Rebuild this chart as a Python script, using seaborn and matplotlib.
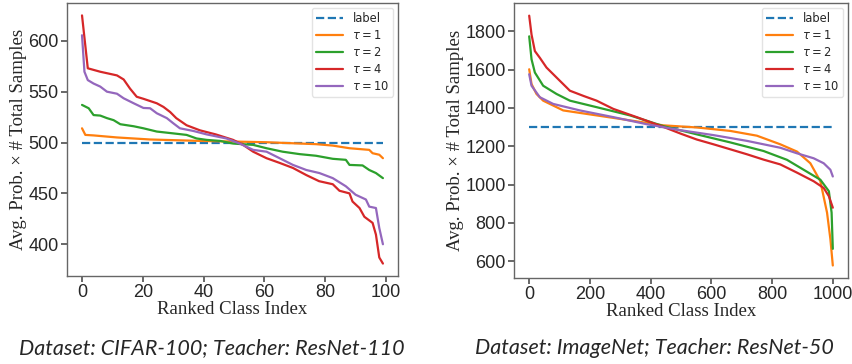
import matplotlib
matplotlib.use("Agg")
import matplotlib.pyplot as plt
import seaborn as sns

# --- CIFAR-100 / ResNet-110 ---
cifar_label = 500
cifar_n = 99
cifar_red_x = [0, 1.9, 6, 11.5, 13.7, 15.8, 18, 20.2, 24.6, 26.8, 29, 31, 34.4, 38.8, 44, 49.7, 53,
               56.3, 60.7, 65, 69.4, 73.8, 78, 82.5, 84.7, 88, 89, 91.3, 92.9, 95.6, 96.7, 97.8, 99]
cifar_red_y = [625, 573, 569.6, 566, 562, 553, 545, 543, 538.6, 535, 530, 524, 517, 512, 508, 502.6, 497.7,
               491, 484.6, 480, 475, 468, 462, 459, 452.6, 450, 442, 435.6, 427, 421, 409.5, 387, 381]
cifar_purple_x = [0, 0.8, 1.9, 3.8, 6, 8.2, 11.5, 13.7, 17, 20.2, 22.4, 24.6, 27.9, 30, 32.2, 36.6, 41,
                  47.5, 51.9, 56.3, 60.7, 65, 69.4, 73.8, 78.1, 82.5, 86.8, 90, 93.4, 94.5, 96.7, 97.8, 99]
cifar_purple_y = [605.5, 569.6, 561.4, 558, 555, 550, 548, 543.5, 538.6, 534, 533.7, 528.8, 524, 519, 514,
                  511.4, 508, 504, 499, 492.8, 491, 484.6, 478, 473, 470, 465, 457, 448.7, 444, 437, 435.6,
                  416, 400]
cifar_green_x = [0, 2.2, 3.8, 6, 8.2, 10.4, 12.6, 17, 20.2, 24.6, 30, 34.4, 37.7, 41, 45.4, 49.7, 56.3,
                 60.7, 66, 71.6, 77, 82.5, 86.8, 88, 92.3, 94.5, 96.7, 99]
cifar_green_y = [537, 533.7, 527, 526.5, 524, 522, 518, 516, 514, 510.8, 509, 507.5, 504, 502.6, 501.6,
                 499, 497.7, 494.4, 491, 488.6, 487, 484, 483, 478, 477.5, 473, 470, 465]
cifar_orange_x = [0, 1.1, 3.8, 11.5, 22.4, 38.8, 49.7, 60.7, 77, 82.5, 88, 94.5, 95.6, 97.8, 99]
cifar_orange_y = [514, 507.5, 507, 505, 503, 501.6, 501, 500.3, 498.4, 497, 494.4, 492.8, 489.5, 488, 484.6]

# --- ImageNet / ResNet-50 ---
imnet_label = 1300
imnet_n = 1000
imnet_red_x = [0, 7.7, 18.7, 35, 57, 90, 134, 180, 222, 277, 354, 442, 500, 552, 607, 660, 717, 772, 827,
               882, 937, 970, 987, 1000]
imnet_red_y = [1882, 1783, 1697, 1662, 1611, 1559, 1490, 1462, 1438, 1395, 1352, 1301, 1265, 1235, 1210,
               1185, 1158, 1130, 1105, 1062, 1017, 982, 939, 879]
imnet_green_x = [0, 7.7, 18.7, 46, 90, 134, 222, 332, 442, 552, 662, 772, 849, 904, 959, 987, 996, 1000]
imnet_green_y = [1774, 1654, 1585, 1516, 1473, 1438, 1404, 1361, 1305, 1262, 1220, 1175, 1129, 1077, 1025,
                 965, 853, 664]
imnet_orange_x = [0, 7.7, 24, 46, 112, 222, 332, 442, 552, 662, 750, 827, 882, 926, 959, 981, 992, 1000]
imnet_orange_y = [1602, 1525, 1473, 1438, 1387, 1361, 1335, 1309, 1298, 1280, 1255, 1210, 1172, 1111,
                  1017, 853, 715, 577]
imnet_purple_x = [0, 7.7, 35, 79, 167, 277, 387, 497, 607, 717, 827, 882, 937, 970, 992, 1000]
imnet_purple_y = [1576, 1516, 1456, 1421, 1387, 1352, 1315, 1284, 1258, 1228, 1192, 1163, 1137, 1111,
                  1077, 1042]

series_names = ["$\\tau = 1$", "$\\tau = 2$", "$\\tau = 4$", "$\\tau = 10$"]
colors = ["#ff7f0e", "#2ca02c", "#d62728", "#9467bd"]
label_color = "#1f77b4"

sns.set_theme(style="ticks")
plt.rcParams["font.family"] = ["Liberation Sans", "DejaVu Sans"]
plt.rcParams["mathtext.fontset"] = "dejavusans"

fig = plt.figure(figsize=(8.52, 3.64), dpi=100)
ax1 = fig.add_axes([0.0786, 0.2418, 0.3885, 0.75])
ax2 = fig.add_axes([0.6033, 0.2363, 0.392, 0.755])


def draw(ax, label_val, n, curves, xticks):
    sns.lineplot(x=[0, n], y=[label_val, label_val], ax=ax, color=label_color,
                 linestyle="--", linewidth=1.6, label="label")
    for (xs, ys), name, c in zip(curves, series_names, colors):
        sns.lineplot(x=xs, y=ys, ax=ax, color=c, linewidth=1.6, label=name,
                     sort=False, estimator=None)
    ax.set_xticks(xticks)
    ax.set_xlabel("Ranked Class Index", family="Liberation Serif", fontsize=13.5, labelpad=0)
    ax.set_ylabel("Avg. Prob. \u00d7 # Total Samples", family="Liberation Serif", fontsize=13.5,
                  labelpad=1)
    ax.tick_params(labelsize=13, color="#555555", length=4, pad=2)
    for s in ax.spines.values():
        s.set_color("#666666")
        s.set_linewidth(1.0)
    leg = ax.legend(loc="upper right", prop={"family": "DejaVu Sans", "size": 8.3}, frameon=True,
                    handlelength=2.4, borderaxespad=0.4, labelspacing=0.35, borderpad=0.35)
    leg.get_frame().set_edgecolor("#dddddd")


draw(ax1, cifar_label, cifar_n,
     [(cifar_orange_x, cifar_orange_y), (cifar_green_x, cifar_green_y),
      (cifar_red_x, cifar_red_y), (cifar_purple_x, cifar_purple_y)],
     [0, 20, 40, 60, 80, 100])
ax1.set_yticks([400, 450, 500, 550, 600])

draw(ax2, imnet_label, imnet_n,
     [(imnet_orange_x, imnet_orange_y), (imnet_green_x, imnet_green_y),
      (imnet_red_x, imnet_red_y), (imnet_purple_x, imnet_purple_y)],
     [0, 200, 400, 600, 800, 1000])
ax2.set_yticks([600, 800, 1000, 1200, 1400, 1600, 1800])

fig.text(0.2485, 0.045, "Dataset: CIFAR-100; Teacher: ResNet-110", ha="center", va="center",
         family="Lato", style="italic", fontsize=15.5)
fig.text(0.768, 0.045, "Dataset: ImageNet; Teacher: ResNet-50", ha="center", va="center",
         family="Lato", style="italic", fontsize=15.5)

fig.savefig("out.png", dpi=100)
